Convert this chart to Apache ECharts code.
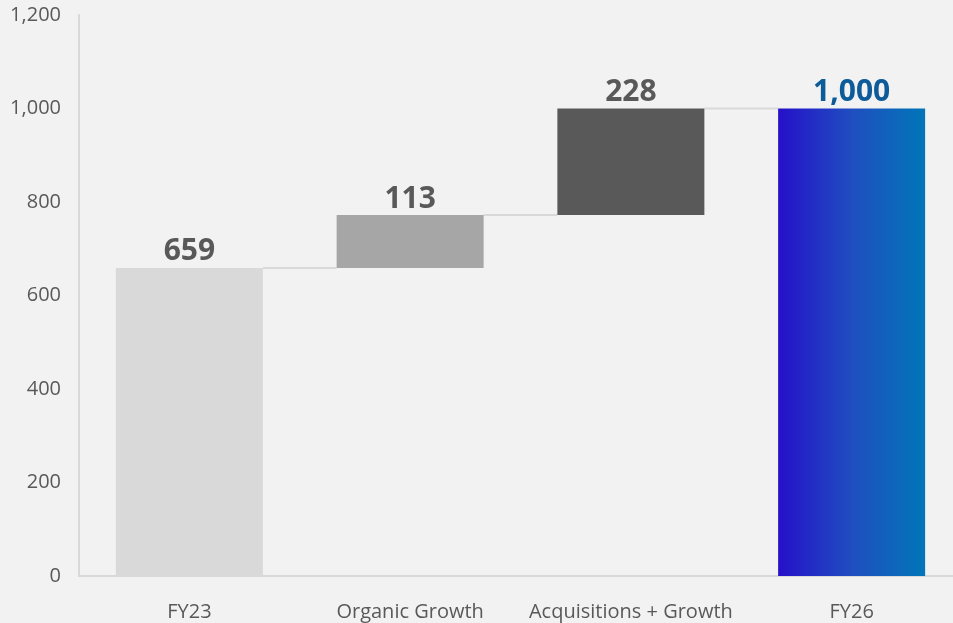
<!DOCTYPE html>
<html>
<head>
<meta charset="utf-8">
<script src="https://cdn.jsdelivr.net/npm/echarts@6/dist/echarts.min.js"></script>
<style>
  html, body { margin: 0; padding: 0; background: #f2f2f2; }
  #chart { width: 953px; height: 623px; }
</style>
</head>
<body>
<div id="chart"></div>
<script>
// Bridge from FY23 revenue to FY26 target
const categories = ['FY23', 'Organic Growth', 'Acquisitions + Growth', 'FY26'];
const stepValues = [659, 113, 228, 1000];
const isTotal = [true, false, false, true];
const yTicks = [0, 200, 400, 600, 800, 1000, 1200];

// Invisible base under each step and the visible segment on top of it
const baseValues = [];
const levelAfter = [];
let running = 0;
stepValues.forEach((v, i) => {
  if (isTotal[i]) {
    baseValues.push(0);
    running = v;
  } else {
    baseValues.push(running);
    running += v;
  }
  levelAfter.push(running);
});

const barColors = [
  '#d9d9d9',
  '#a6a6a6',
  '#595959',
  new echarts.graphic.LinearGradient(0, 0, 1, 0, [
    { offset: 0, color: '#2510c9' },
    { offset: 0.5, color: '#1f4ec0' },
    { offset: 1, color: '#0176b8' }
  ])
];

const fmt = v => Number(v).toLocaleString('en-US');
const BAR_W = 147;

const chart = echarts.init(document.getElementById('chart'));
chart.setOption({
  backgroundColor: '#f2f2f2',
  animation: false,
  textStyle: { fontFamily: 'Open Sans' },
  grid: {
    left: 79, width: 883, top: 15, bottom: 47,
    containLabel: false,
    outerBoundsMode: 'none'
  },
  xAxis: {
    type: 'category',
    data: categories,
    axisLine: { show: true, lineStyle: { color: '#d9d9d9', width: 2 } },
    axisTick: { show: false },
    axisLabel: { color: '#595959', fontSize: 20, margin: 26, interval: 0, fontFamily: 'Open Sans' }
  },
  yAxis: {
    type: 'value',
    min: yTicks[0],
    max: yTicks[yTicks.length - 1],
    interval: yTicks[1] - yTicks[0],
    axisLine: { show: true, lineStyle: { color: '#d9d9d9', width: 2 } },
    axisTick: { show: false },
    splitLine: { show: false },
    axisLabel: {
      color: '#595959', fontSize: 20, margin: 18, fontFamily: 'Open Sans',
      padding: [6, 0, 0, 0],
      formatter: fmt
    }
  },
  series: [
    {
      name: 'base',
      type: 'bar',
      stack: 'bridge',
      barWidth: BAR_W,
      silent: true,
      itemStyle: { color: 'transparent' },
      data: baseValues
    },
    {
      name: 'step',
      type: 'bar',
      stack: 'bridge',
      barWidth: BAR_W,
      data: stepValues.map((v, i) => ({
        value: v,
        itemStyle: { color: barColors[i] },
        label: {
          color: i === 3 ? '#0d5b98' : '#595959'
        }
      })),
      label: {
        show: true,
        position: 'top',
        distance: 1,
        fontSize: 30,
        fontWeight: 'bold',
        fontFamily: 'Open Sans',
        formatter: p => fmt(p.value)
      }
    },
    {
      // Connector lines between neighbouring bars at each running level
      name: 'connectors',
      type: 'custom',
      silent: true,
      z: 1,
      data: levelAfter.slice(0, -1).map((lvl, i) => [i, lvl]),
      renderItem: (params, api) => {
        const i = api.value(0);
        const lvl = api.value(1);
        const p0 = api.coord([i, lvl]);
        const p1 = api.coord([i + 1, lvl]);
        const half = BAR_W / 2;
        return {
          type: 'line',
          shape: { x1: p0[0] + half, y1: p0[1], x2: p1[0] - half, y2: p1[1] },
          style: { stroke: '#d9d9d9', lineWidth: 2 }
        };
      }
    }
  ]
});
</script>
</body>
</html>
